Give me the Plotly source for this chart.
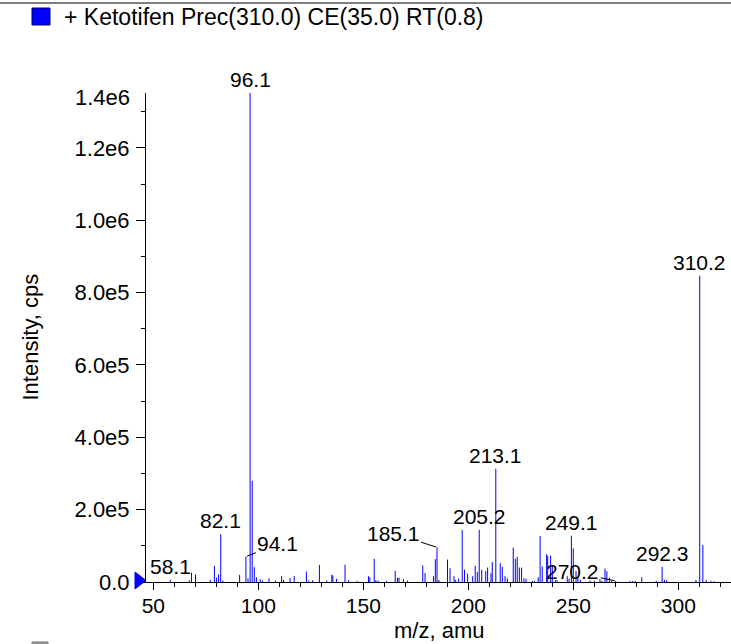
import plotly.graph_objects as go

# ---------------- data ----------------
mz = [58.1, 67.1, 68.2, 70.1, 77.1, 79.1, 80.1, 81.1, 82.1, 83.1, 91.1, 94.1, 95.1, 96.1, 97.1,
      98.1, 99.1, 100.9, 102.0, 105.1, 108.2, 111.1, 112.0, 115.1, 117.1, 122.9, 124.0, 125.9,
      129.1, 132.6, 135.0, 135.5, 137.3, 141.3, 143.0, 147.1, 152.5, 153.1, 155.2, 156.0, 157.1,
      161.0, 165.2, 166.3, 167.0, 169.1, 171.1, 178.3, 179.4, 183.4, 184.3, 185.1, 186.0, 190.1,
      191.3, 193.2, 194.0, 195.4, 197.1, 198.2, 199.7, 202.1, 203.3, 204.3, 205.2, 206.4, 208.3,
      209.2, 210.8, 211.4, 213.1, 215.2, 216.2, 217.5, 218.6, 221.4, 222.4, 223.3, 224.3, 225.4,
      226.5, 227.5, 230.5, 231.5, 233.3, 234.2, 235.2, 237.3, 237.8, 239.2, 240.0, 241.5, 242.3,
      247.1, 248.0, 249.1, 250.0, 251.3, 252.2, 253.4, 258.0, 260.0, 262.7, 263.6, 265.1, 266.0,
      267.2, 268.3, 270.2, 277.0, 278.3, 279.5, 282.6, 289.5, 292.3, 293.4, 294.5, 308.4, 310.2,
      311.7, 313.3, 315.5, 317.0]
intensity = [6000, 5000, 26000, 21000, 6000, 45000, 12000, 21000, 132000, 4000, 20000, 70000, 10000,
             1352000, 280000, 41000, 13000, 8000, 4000, 10000, 4000, 16000, 6000, 11000, 17000, 29000,
             4000, 5000, 47000, 4000, 20000, 18000, 9000, 48000, 5000, 3000, 16000, 13000, 64000, 5000,
             4000, 3000, 31000, 12000, 12000, 8000, 4000, 46000, 25000, 16000, 63000, 96000, 6000,
             62000, 38000, 16000, 6000, 10000, 144000, 34000, 23000, 16000, 45000, 27000, 144000,
             34000, 30000, 40000, 24000, 55000, 313000, 52000, 42000, 16000, 10000, 95000, 64000,
             70000, 40000, 40000, 10000, 9000, 3000, 3000, 13000, 127000, 43000, 77000, 72000, 73000,
             43000, 5000, 5000, 16000, 8000, 128000, 93000, 30000, 12000, 6000, 4000, 4000, 8000,
             3000, 37000, 30000, 12000, 4000, 3000, 3000, 3000, 3000, 13000, 3000, 42000, 6000, 5000,
             6000, 847000, 102000, 6000, 3000, 2000]

label_mz = [58.1, 82.1, 94.1, 96.1, 185.1, 205.2, 213.1, 249.1, 270.2, 292.3, 310.2]
label_text = ["58.1", "82.1", "94.1", "96.1", "185.1", "205.2", "213.1", "249.1", "270.2", "292.3", "310.2"]

x_tick_vals = [50, 100, 150, 200, 250, 300]
y_tick_vals = [0, 2e5, 4e5, 6e5, 8e5, 1.0e6, 1.2e6]
y_tick_text = ["0.0", "2.0e5", "4.0e5", "6.0e5", "8.0e5", "1.0e6", "1.2e6"]
y_top_text = "1.4e6"

legend_text = "+ Ketotifen Prec(310.0) CE(35.0) RT(0.8)"
x_title = "m/z, amu"
y_title = "Intensity, cps"

# ---------------- layout constants ----------------
W, H = 731, 644
ML, MR, MT, MB = 146, 0, 93, 62
PW, PH = W - ML - MR, H - MT - MB
X_RANGE = [46.52, 325.1]
Y_MAX = 1.352e6
FONT = "Liberation Sans, Arial, Helvetica, sans-serif"


def px_x(px):
    return (px - ML) / PW


def px_y(py):
    return (H - MB - py) / PH


# leader-line offsets (pixels) for labels that sit beside their peak
leader = {"185.1": (-44, -14), "94.1": (32, -13), "270.2": (-43, -9)}

# ---------------- traces ----------------
xs, ys = [], []
for m, v in zip(mz, intensity):
    xs += [m, m, None]
    ys += [0, v, None]

fig = go.Figure()
fig.add_trace(go.Scatter(x=xs, y=ys, mode="lines", line=dict(color="#0000ff", width=1),
                         hoverinfo="skip", showlegend=False))

annotations = []
for m, t in zip(label_mz, label_text):
    v = intensity[mz.index(m)]
    if t in leader:
        dx, dy = leader[t]
        annotations.append(dict(x=m, y=v, xref="x", yref="y", text=t, showarrow=True,
                                arrowhead=0, arrowwidth=1, arrowcolor="black", ax=dx, ay=dy,
                                standoff=1, font=dict(size=21, color="black", family=FONT)))
    else:
        annotations.append(dict(x=m, y=v, xref="x", yref="y", text=t, showarrow=False,
                                xanchor="center", yanchor="bottom", yshift=0,
                                font=dict(size=21, color="black", family=FONT)))

annotations.append(dict(x=px_x(132), y=Y_MAX, xref="paper", yref="y", text=y_top_text,
                        showarrow=False, xanchor="right", yanchor="middle", yshift=-4,
                        font=dict(size=22, color="black", family=FONT)))
annotations.append(dict(x=px_x(62), y=px_y(17), xref="paper", yref="paper", text=legend_text,
                        showarrow=False, xanchor="left", yanchor="middle",
                        font=dict(size=23, color="black", family=FONT)))
annotations.append(dict(x=px_x(30), y=0.5, xref="paper", yref="paper", text=y_title,
                        showarrow=False, textangle=-90, xanchor="center", yanchor="middle",
                        font=dict(size=22, color="black", family=FONT)))
annotations.append(dict(x=0.5, y=px_y(630), xref="paper", yref="paper", text=x_title,
                        showarrow=False, xanchor="center", yanchor="middle",
                        font=dict(size=22, color="black", family=FONT)))

tri = "M {:.4f},{:.4f} L {:.4f},{:.4f} L {:.4f},{:.4f} Z".format(
    px_x(135), px_y(572), px_x(135), px_y(589), px_x(146), px_y(580.5))

shapes = [
    dict(type="line", xref="paper", yref="paper", x0=px_x(0), x1=px_x(W), y0=px_y(3), y1=px_y(3),
         line=dict(color="#555555", width=1.5)),
    dict(type="rect", xref="paper", yref="paper", x0=px_x(32), x1=px_x(50), y0=px_y(25), y1=px_y(8),
         fillcolor="#0000ff", line=dict(color="#000066", width=1)),
    dict(type="rect", xref="paper", yref="paper", x0=px_x(32), x1=px_x(48), y0=px_y(660), y1=px_y(642),
         fillcolor="#999999", line=dict(color="#777777", width=1)),
    dict(type="path", xref="paper", yref="paper", path=tri, fillcolor="#0000ff",
         line=dict(color="#0000ff", width=1)),
]

fig.update_layout(
    width=W, height=H,
    margin=dict(l=ML, r=MR, t=MT, b=MB, pad=0),
    paper_bgcolor="white", plot_bgcolor="white",
    font=dict(family=FONT, color="black", size=21),
    showlegend=False,
    annotations=annotations,
    shapes=shapes,
    xaxis=dict(range=X_RANGE, showgrid=False, zeroline=False, showline=True, linecolor="black",
               linewidth=1, ticks="outside", ticklen=7, tickcolor="black", tickwidth=1,
               tickvals=x_tick_vals, tickfont=dict(size=21, family=FONT, color="black"),
               ticklabelstandoff=-2,
               minor=dict(dtick=10, tick0=0, ticks="outside", ticklen=4, tickcolor="black"),
               fixedrange=True),
    yaxis=dict(range=[0, Y_MAX], showgrid=False, zeroline=False, showline=True, linecolor="black",
               linewidth=1, ticks="outside", ticklen=9, tickcolor="black", tickwidth=1,
               tickvals=y_tick_vals, ticktext=y_tick_text, ticklabelstandoff=2,
               tickfont=dict(size=22, family=FONT, color="black"),
               minor=dict(dtick=1e5, tick0=0, ticks="outside", ticklen=4, tickcolor="black"),
               fixedrange=True),
)

fig.write_html("out.html", config={"displayModeBar": False},
               post_script="document.body.style.margin='0px';")
